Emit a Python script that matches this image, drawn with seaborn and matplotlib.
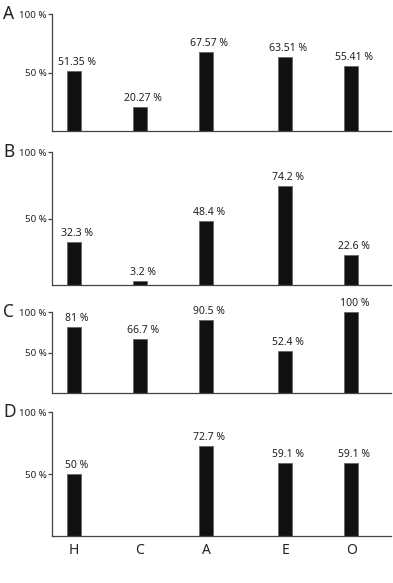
import matplotlib
matplotlib.use("Agg")
import matplotlib.pyplot as plt
import numpy as np
import pandas as pd
import seaborn as sns

# groups along the x axis
groups = ["H", "C", "A", "E", "O"]
panels = ["A", "B", "C", "D"]

# percentages per panel (None = no bar)
vals_a = [51.35, 20.27, 67.57, 63.51, 55.41]
vals_b = [32.3, 3.2, 48.4, 74.2, 22.6]
vals_c = [81, 66.7, 90.5, 52.4, 100]
vals_d = [50, None, 72.7, 59.1, 59.1]

labels_a = ["51.35 %", "20.27 %", "67.57 %", "63.51 %", "55.41 %"]
labels_b = ["32.3 %", "3.2 %", "48.4 %", "74.2 %", "22.6 %"]
labels_c = ["81 %", "66.7 %", "90.5 %", "52.4 %", "100 %"]
labels_d = ["50 %", "", "72.7 %", "59.1 %", "59.1 %"]

sns.set_theme(style="ticks")
plt.rcParams["font.family"] = ["Noto Sans", "DejaVu Sans"]

# x positions of the groups (the original spacing is slightly uneven)
x_pos = [0, 1, 2, 3.2, 4.2]

# axes boxes in pixels: (top, bottom)
W, H = 393, 583
boxes = [(14, 131), (152, 285), (312, 393), (412, 536)]
left_px, right_px = 52, 391

fig = plt.figure(figsize=(W / 100, H / 100), dpi=100)
text_col = "#222222"

all_vals = [vals_a, vals_b, vals_c, vals_d]
all_labels = [labels_a, labels_b, labels_c, labels_d]

for i, (name, vals, labs) in enumerate(zip(panels, all_vals, all_labels)):
    top, bot = boxes[i]
    ax = fig.add_axes([left_px / W, 1 - bot / H, (right_px - left_px) / W, (bot - top) / H])
    df = pd.DataFrame({"x": x_pos, "value": vals, "label": labs, "group": groups})
    df = df.dropna(subset=["value"])
    sns.barplot(
        data=df,
        x="x",
        y="value",
        native_scale=True,
        width=0.21,
        color="#111111",
        edgecolor="#666666",
        linewidth=0.6,
        saturation=1,
        ax=ax,
    )
    for p, lab in zip(ax.patches, df["label"]):
        if lab:
            ax.annotate(
                lab,
                (p.get_x() + p.get_width() / 2, p.get_height()),
                xytext=(3, 3),
                textcoords="offset pixels",
                ha="center",
                va="bottom",
                fontsize=7.5,
                color=text_col,
            )
    ax.set_ylim(0, 100)
    ax.set_xlim(-0.333, 4.8)
    ax.set_yticks([50, 100])
    ax.set_yticklabels(["50 %", "100 %"], fontsize=7, color=text_col)
    ax.set_xlabel("")
    ax.set_ylabel("")
    sns.despine(ax=ax)
    for s in ["left", "bottom"]:
        ax.spines[s].set_color("#444444")
        ax.spines[s].set_linewidth(0.9)
    ax.tick_params(axis="y", length=3, width=0.9, color="#444444", pad=1)
    if i == len(panels) - 1:
        ax.set_xticks(x_pos)
        ax.set_xticklabels(groups, fontsize=10, color=text_col)
        ax.tick_params(axis="x", length=0, pad=5)
    else:
        ax.set_xticks([])
    ax.text(-0.1445, 1.0, name, transform=ax.transAxes, ha="left", va="center",
            fontsize=12.5, color=text_col)

fig.savefig("out.png", dpi=100)
